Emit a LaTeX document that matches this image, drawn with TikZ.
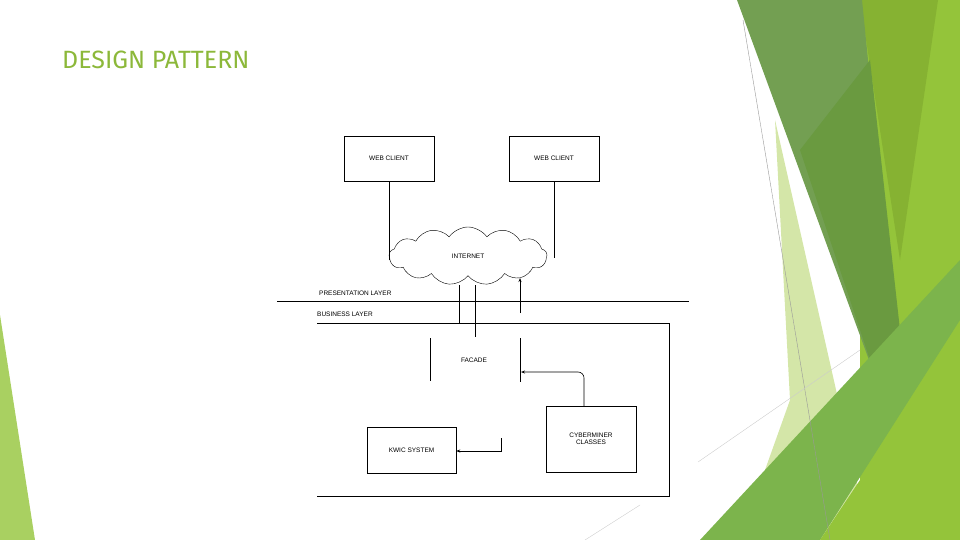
\documentclass[tikz,border=0pt]{standalone}
\usepackage{fontspec}
\setmainfont{Liberation Sans}
\newfontfamily\titlefont{Fira Sans}
\usetikzlibrary{arrows.meta,positioning,shapes.symbols}
\definecolor{leafA}{HTML}{739F52}
\definecolor{leafB}{HTML}{86B232}
\definecolor{leafC}{HTML}{94C43A}
\definecolor{leafD}{HTML}{6A9A40}
\definecolor{leafE}{HTML}{D4E6A8}
\definecolor{leafF}{HTML}{7CB44C}
\definecolor{titlegreen}{HTML}{8CB83A}
\tikzset{
  box/.style={rectangle,draw=black,fill=white,minimum width=90pt,inner sep=2pt,font=\fontsize{6.5}{7.5}\selectfont,align=center},
  lbl/.style={font=\fontsize{6.5}{7.5}\selectfont,inner sep=0pt,anchor=west},
  wire/.style={draw=black,line width=0.6pt},
  arrow/.style={wire,-{Stealth[length=4pt,width=3pt]}}
}
\begin{document}
\begin{tikzpicture}[x=1pt,y=-1pt]
    \useasboundingbox (0,0) rectangle (960,540);

    % side decoration
    \fill[leafC] (860,0) -- (960,0) -- (960,540) -- (860,540) -- cycle;
    \fill[leafB] (860,0) -- (938,0) -- (900,260) -- cycle;
    \fill[leafE] (775,120) -- (870,540) -- (740,540) -- (790,400) -- cycle;
    \fill[leafA] (737,0) -- (862,0) -- (895,330) -- (880,390) -- cycle;
    \fill[leafD] (800,150) -- (870,60) -- (900,330) -- (880,390) -- cycle;
    \fill[leafF] (700,540) -- (960,260) -- (960,320) -- (820,540) -- cycle;
    \fill[leafC] (820,540) -- (960,330) -- (960,540) -- cycle;
    \fill[leafC!80] (0,315) -- (35,540) -- (0,540) -- cycle;
    \draw[black!40,line width=0.4pt] (743,20) -- (830,540);
    \draw[black!20,line width=0.4pt] (698,462) -- (860,350);
    \draw[black!20,line width=0.4pt] (585,540) -- (640,505);

    % title
    \node[anchor=west,inner sep=0pt,text=titlegreen,font=\titlefont\fontsize{25}{28}\selectfont] (title) at (62,60) {DESIGN PATTERN};

    % clients and internet
    \node[box,minimum height=45pt] (web1) at (389,158.5) {WEB CLIENT};
    \node[box,minimum height=45pt] (web2) at (554,158.5) {WEB CLIENT};
    \node[cloud,draw=black,fill=white,cloud puffs=13,cloud puff arc=110,aspect=2.6,minimum width=158pt,minimum height=58pt,inner sep=0pt,font=\fontsize{6.5}{7.5}\selectfont] (net) at (468,256) {INTERNET};
    \coordinate (web1end) at (389,260);
    \coordinate (web2end) at (554,258);
    \draw[wire] (web1) -- (web1end);
    \draw[wire] (web2) -- (web2end);

    % layers
    \coordinate (presL) at (277,301);
    \coordinate (presR) at (689,301);
    \draw[wire] (presL) -- (presR);
    \node[lbl] (pres) at (319,293) {PRESENTATION LAYER};
    \node[lbl] (bus) at (317,314) {BUSINESS LAYER};
    \coordinate (busTL) at (317,323);
    \coordinate (busBL) at (317,496);
    \draw[wire] (busTL) -- (669,323) -- (669,496) -- (busBL);

    % facade
    \node[font=\fontsize{6.5}{7.5}\selectfont] (facade) at (474,360) {FACADE};
    \coordinate (facL) at (430,338);
    \coordinate (facR) at (520,338);
    \draw[wire] (facL) -- ++(0,43);
    \draw[wire] (facR) -- ++(0,44);
    \coordinate (netA) at (459,285);
    \coordinate (netB) at (475,285);
    \draw[wire] (netA) -- (459,323);
    \draw[wire] (netB) -- (475,337);
    \coordinate (upTail) at (520,313);
    \draw[arrow] (upTail) -- (520,278);

    % business classes
    \node[box,minimum height=66pt] (cyber) at (591,439) {CYBERMINER\\CLASSES};
    \node[box,minimum width=89pt,minimum height=46pt] (kwic) at (411.5,450) {KWIC SYSTEM};
    \draw[arrow,rounded corners=6pt] (cyber.north -| 584,0) -- (584,372) -- (521,372);
    \coordinate (kwicTail) at (501,438);
    \draw[arrow] (kwicTail) -- (501,451) -- (kwic.east |- 0,451);
\end{tikzpicture}
\end{document}
